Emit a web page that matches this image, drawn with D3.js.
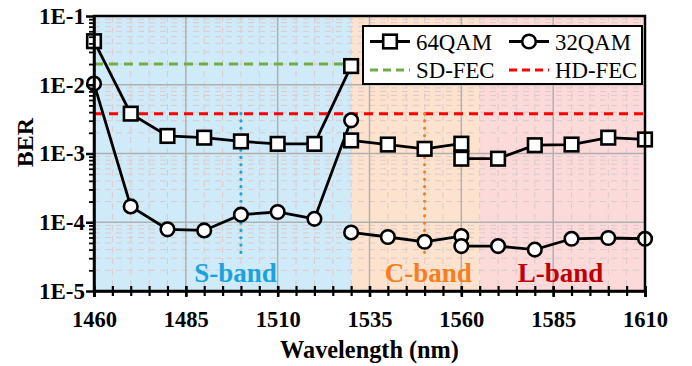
<!DOCTYPE html>
<html>
<head>
<meta charset="utf-8">
<script src="https://cdn.jsdelivr.net/npm/d3@7"></script>
<style>
body{margin:0;background:#fff;}
</style>
</head>
<body>
<script>
var w = 692, h = 366;
var margin = {top: 16, right: 47, bottom: 75, left: 94};
var serif = "'Liberation Serif', 'Times New Roman', 'DejaVu Serif', serif";

// wavelengths of each band segment (nm)
var sBand = [1460, 1470, 1480, 1490, 1500, 1510, 1520, 1530];
var cBand = [1530, 1540, 1550, 1560];
var lBand = [1560, 1570, 1580, 1590, 1600, 1610];

// BER values
var ber64S = [4.3e-2, 3.8e-3, 1.8e-3, 1.7e-3, 1.5e-3, 1.38e-3, 1.38e-3, 1.87e-2];
var ber64C = [1.55e-3, 1.35e-3, 1.17e-3, 1.39e-3];
var ber64L = [8.4e-4, 8.4e-4, 1.32e-3, 1.35e-3, 1.7e-3, 1.6e-3];
var ber32S = [1.04e-2, 1.7e-4, 7.9e-5, 7.6e-5, 1.29e-4, 1.41e-4, 1.12e-4, 3.04e-3];
var ber32C = [7.1e-5, 6.1e-5, 5.2e-5, 6.3e-5];
var ber32L = [4.5e-5, 4.5e-5, 4.0e-5, 5.75e-5, 5.9e-5, 5.75e-5];

var sdFec = 2.0e-2;
var hdFec = 3.8e-3;

var bandNames = ["S-band", "C-band", "L-band"];
var bandStart = [1460, 1530, 1565];
var bandEnd = [1530, 1565, 1610];
var bandLabelX = [1498.5, 1551, 1587];
var bandMarkX = [1500, 1550];      // dotted centre lines
var bandMarkTop = 3.8e-3, bandMarkBottom = 3.2e-5;

var xMajor = [1460, 1485, 1510, 1535, 1560, 1585, 1610];
var yMajor = [1e-1, 1e-2, 1e-3, 1e-4, 1e-5];

var bandFill = ["#cfeaf8", "#fde3cd", "#fcdada"];
var bandText = ["#1aa3de", "#f57f20", "#c00000"];
var dotColor = ["#1aa3de", "#f57f20"];

var svg = d3.select("body")
	.append("svg")
		.attr("width", w)
		.attr("height", h);

var x = d3.scaleLinear().domain([1460, 1610]).range([margin.left, w - margin.right]);
var y = d3.scaleLog().domain([1e-5, 1e-1]).range([h - margin.bottom, margin.top]);

var plotTop = margin.top, plotBottom = h - margin.bottom;

// band backgrounds
svg.selectAll("rect.band")
	.data(bandNames)
	.enter()
	.append("rect")
		.attr("class", "band")
		.attr("x", function(d, i){ return x(bandStart[i]); })
		.attr("y", plotTop)
		.attr("width", function(d, i){ return x(bandEnd[i]) - x(bandStart[i]); })
		.attr("height", plotBottom - plotTop)
		.attr("fill", function(d, i){ return bandFill[i]; });

// minor grid
var xMinor = d3.range(1465, 1610, 5).filter(function(v){ return xMajor.indexOf(v) < 0; });
var yMinor = [];
yMajor.slice(1).forEach(function(dec){
	for (var k = 2; k <= 9; k++) yMinor.push(dec * k);
});

svg.selectAll("line.xminor")
	.data(xMinor)
	.enter()
	.append("line")
		.attr("x1", function(d){ return x(d); })
		.attr("x2", function(d){ return x(d); })
		.attr("y1", plotTop).attr("y2", plotBottom)
		.attr("stroke", "#dccaca")
		.attr("stroke-width", 1)
		.attr("stroke-dasharray", "6,5");

svg.selectAll("line.yminor")
	.data(yMinor)
	.enter()
	.append("line")
		.attr("x1", x(1460)).attr("x2", x(1610))
		.attr("y1", function(d){ return y(d); })
		.attr("y2", function(d){ return y(d); })
		.attr("stroke", "#dccaca")
		.attr("stroke-width", 1)
		.attr("stroke-dasharray", "6,5");

// major grid
svg.selectAll("line.xmajor")
	.data(xMajor)
	.enter()
	.append("line")
		.attr("x1", function(d){ return x(d); })
		.attr("x2", function(d){ return x(d); })
		.attr("y1", plotTop).attr("y2", plotBottom)
		.attr("stroke", "#b0b0b0")
		.attr("stroke-width", 1.5);

svg.selectAll("line.ymajor")
	.data(yMajor)
	.enter()
	.append("line")
		.attr("x1", x(1460)).attr("x2", x(1610))
		.attr("y1", function(d){ return y(d); })
		.attr("y2", function(d){ return y(d); })
		.attr("stroke", "#b0b0b0")
		.attr("stroke-width", 1.5);

// FEC thresholds
svg.append("line")
	.attr("x1", x(1460)).attr("x2", x(1610))
	.attr("y1", y(sdFec)).attr("y2", y(sdFec))
	.attr("stroke", "#70ad47").attr("stroke-width", 3)
	.attr("stroke-dasharray", "9,6");
svg.append("line")
	.attr("x1", x(1460)).attr("x2", x(1610))
	.attr("y1", y(hdFec)).attr("y2", y(hdFec))
	.attr("stroke", "#ff0000").attr("stroke-width", 3)
	.attr("stroke-dasharray", "9,6");

// dotted band centre marks
svg.selectAll("line.mark")
	.data(bandMarkX)
	.enter()
	.append("line")
		.attr("x1", function(d){ return x(d); })
		.attr("x2", function(d){ return x(d); })
		.attr("y1", y(bandMarkTop)).attr("y2", y(bandMarkBottom))
		.attr("stroke", function(d, i){ return dotColor[i]; })
		.attr("stroke-width", 3.2)
		.attr("stroke-linecap", "round")
		.attr("stroke-dasharray", "0,7.3");

// band labels
svg.selectAll("text.bandlabel")
	.data(bandNames)
	.enter()
	.append("text")
		.attr("x", function(d, i){ return x(bandLabelX[i]); })
		.attr("y", 282)
		.attr("text-anchor", "middle")
		.style("font-family", serif)
		.style("font-size", "27px")
		.style("font-weight", "bold")
		.attr("fill", function(d, i){ return bandText[i]; })
		.text(function(d){ return d; });

// series
var line = d3.line()
	.x(function(d){ return x(d[0]); })
	.y(function(d){ return y(d[1]); });

function pairs(xs, ys){ return xs.map(function(v, i){ return [v, ys[i]]; }); }

var seg64 = [pairs(sBand, ber64S), pairs(cBand, ber64C), pairs(lBand, ber64L)];
var seg32 = [pairs(sBand, ber32S), pairs(cBand, ber32C), pairs(lBand, ber32L)];

seg64.concat(seg32).forEach(function(seg){
	svg.append("path")
		.attr("d", line(seg))
		.attr("fill", "none")
		.attr("stroke", "#000")
		.attr("stroke-width", 2.8);
});

var pts32 = [].concat(seg32[0], seg32[1], seg32[2]);
var pts64 = [].concat(seg64[0], seg64[1], seg64[2]);

svg.selectAll("circle.p32")
	.data(pts32)
	.enter()
	.append("circle")
		.attr("cx", function(d){ return x(d[0]); })
		.attr("cy", function(d){ return y(d[1]); })
		.attr("r", 6.8)
		.attr("fill", "#fff")
		.attr("stroke", "#000")
		.attr("stroke-width", 2.6);

svg.selectAll("rect.p64")
	.data(pts64)
	.enter()
	.append("rect")
		.attr("x", function(d){ return x(d[0]) - 6.8; })
		.attr("y", function(d){ return y(d[1]) - 6.8; })
		.attr("width", 13.6)
		.attr("height", 13.6)
		.attr("fill", "#fff")
		.attr("stroke", "#000")
		.attr("stroke-width", 2.6);

// frame
svg.append("rect")
	.attr("x", x(1460)).attr("y", plotTop)
	.attr("width", x(1610) - x(1460)).attr("height", plotBottom - plotTop)
	.attr("fill", "none")
	.attr("stroke", "#000")
	.attr("stroke-width", 2.5);

// x axis
var xMinorAxis = svg.append("g")
	.attr("transform", "translate(0," + plotBottom + ")")
	.call(d3.axisBottom(x).tickValues(d3.range(1460, 1611, 5)).tickFormat("").tickSizeOuter(0));
xMinorAxis.select(".domain").remove();
xMinorAxis.selectAll(".tick line")
	.attr("y1", -5).attr("y2", 5)
	.attr("stroke-width", 2.2);

var xAxis = svg.append("g")
	.attr("transform", "translate(0," + plotBottom + ")")
	.call(d3.axisBottom(x).tickValues(xMajor).tickFormat(d3.format("d")).tickSize(6).tickPadding(14));
xAxis.select(".domain").attr("stroke-width", 2.5);
xAxis.selectAll(".tick line").attr("y1", -5).attr("y2", 6).attr("stroke-width", 2.5);
xAxis.selectAll("text")
	.style("font-size", "22.5px")
	.style("font-weight", "bold")
	.style("font-family", serif)
	.attr("fill", "#000");

// y axis
var yMinorAxis = svg.append("g")
	.attr("transform", "translate(" + margin.left + ",0)")
	.call(d3.axisLeft(y).tickValues(yMinor).tickFormat("").tickSize(5).tickSizeOuter(0));
yMinorAxis.select(".domain").remove();
yMinorAxis.selectAll(".tick line").attr("stroke-width", 1.8);

var yAxis = svg.append("g")
	.attr("transform", "translate(" + margin.left + ",0)")
	.call(d3.axisLeft(y).tickValues(yMajor)
		.tickFormat(function(d){ return "1E" + Math.round(Math.log10(d)); })
		.tickSize(8).tickPadding(1).tickSizeOuter(0));
yAxis.select(".domain").attr("stroke-width", 2.5);
yAxis.selectAll(".tick line").attr("stroke-width", 2.5);
yAxis.selectAll("text")
	.style("font-size", "23px")
	.style("font-weight", "bold")
	.style("font-family", serif)
	.attr("fill", "#000");

// axis titles
svg.append("text")
	.attr("x", (x(1460) + x(1610)) / 2)
	.attr("y", 358)
	.attr("text-anchor", "middle")
	.style("font-family", serif)
	.style("font-size", "24.3px")
	.style("font-weight", "bold")
	.text("Wavelength (nm)");

svg.append("text")
	.attr("transform", "translate(33,142.5) rotate(-90)")
	.attr("text-anchor", "middle")
	.style("font-family", serif)
	.style("font-size", "24px")
	.style("font-weight", "bold")
	.text("BER");

// legend
var legend = svg.append("g");
legend.append("rect")
	.attr("x", 363).attr("y", 26)
	.attr("width", 279).attr("height", 58)
	.attr("fill", "#fff")
	.attr("stroke", "#000")
	.attr("stroke-width", 2);

var legItems = [
	{label: "64QAM", cx: 370, cy: 41.5, kind: "square"},
	{label: "32QAM", cx: 509, cy: 41.5, kind: "circle"},
	{label: "SD-FEC", cx: 370, cy: 70, kind: "sd"},
	{label: "HD-FEC", cx: 509, cy: 70, kind: "hd"}
];

legItems.forEach(function(it){
	var ln = legend.append("line")
		.attr("x1", it.cx).attr("x2", it.cx + 40)
		.attr("y1", it.cy).attr("y2", it.cy);
	if (it.kind === "sd" || it.kind === "hd") {
		ln.attr("stroke", it.kind === "sd" ? "#70ad47" : "#ff0000")
			.attr("stroke-width", 3)
			.attr("stroke-dasharray", "8,5");
	} else {
		ln.attr("stroke", "#000").attr("stroke-width", 2.8);
		if (it.kind === "square") {
			legend.append("rect")
				.attr("x", it.cx + 20 - 6.8).attr("y", it.cy - 6.8)
				.attr("width", 13.6).attr("height", 13.6)
				.attr("fill", "#fff").attr("stroke", "#000").attr("stroke-width", 2.6);
		} else {
			legend.append("circle")
				.attr("cx", it.cx + 20).attr("cy", it.cy).attr("r", 6.8)
				.attr("fill", "#fff").attr("stroke", "#000").attr("stroke-width", 2.6);
		}
	}
	legend.append("text")
		.attr("x", it.cx + 46)
		.attr("y", it.cy + 8)
		.style("font-family", serif)
		.style("font-size", "22.8px")
		.text(it.label);
});
</script>
</body>
</html>
